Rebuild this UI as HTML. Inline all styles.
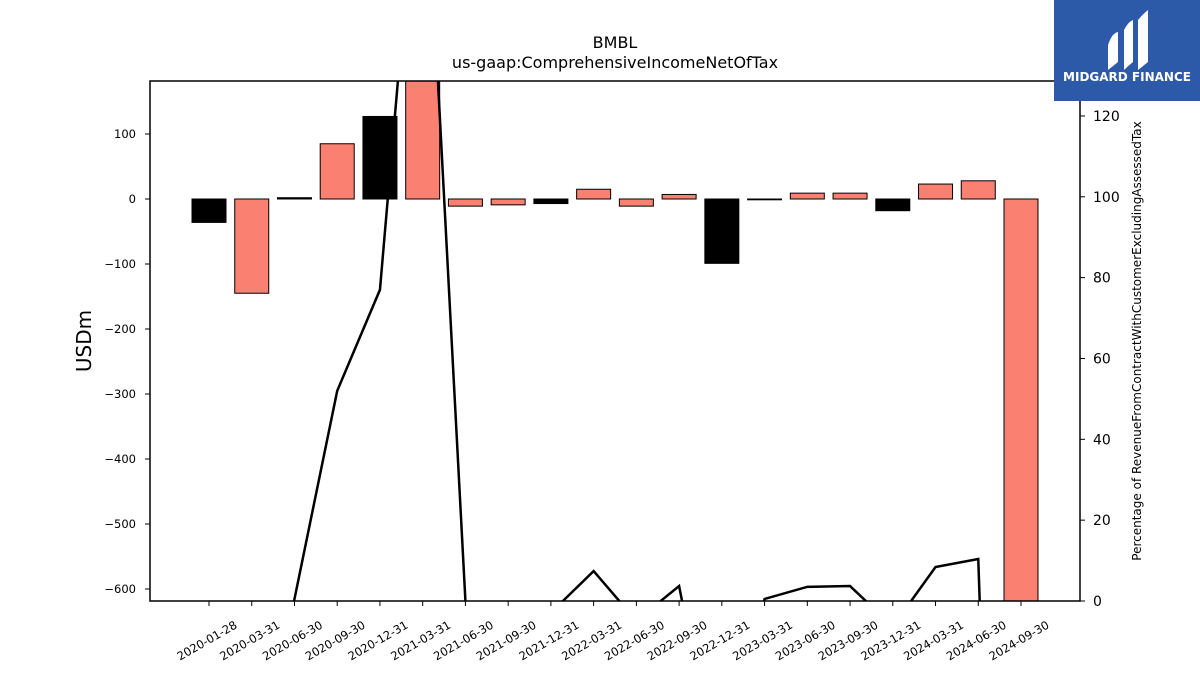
<!DOCTYPE html>
<html><head><meta charset="utf-8"><style>
html,body{margin:0;background:#fff;width:1200px;height:675px;overflow:hidden;}
svg{display:block;}
svg text{font-family:"DejaVu Sans","Liberation Sans",sans-serif;}
</style></head><body>
<svg width="1200" height="675" viewBox="0 0 1200 675" xmlns="http://www.w3.org/2000/svg">
<defs><clipPath id="plotclip"><rect x="150" y="81" width="930" height="520"/></clipPath></defs>
<rect width="1200" height="675" fill="#fff"/>
<text x="615" y="48" font-size="16" text-anchor="middle">BMBL</text>
<text x="615" y="68" font-size="16" text-anchor="middle">us-gaap:ComprehensiveIncomeNetOfTax</text>
<g id="bars" clip-path="url(#plotclip)"></g>
<g id="line" clip-path="url(#plotclip)"></g>
<rect x="150" y="81" width="930" height="520" fill="none" stroke="#000" stroke-width="1.5"/>
<g id="xticks"></g><g id="yticks"></g><g id="y2ticks"></g>
<text transform="translate(91,341) rotate(-90)" font-size="20" text-anchor="middle">USDm</text>
<text transform="translate(1141,341) rotate(-90)" font-size="12" text-anchor="middle">Percentage of RevenueFromContractWithCustomerExcludingAssessedTax</text>
<g>
<rect x="1054" y="0" width="146" height="101" fill="#2d5aa8"/>
<path d="M1108 45 Q1112 33 1118 32 L1118 62 Q1113 66 1108 70 Z" fill="#fff"/>
<path d="M1124 30 Q1128 22 1133 20 L1133 62 Q1128 66 1124 70 Z" fill="#fff"/>
<path d="M1138 20 Q1143 14 1148 10 L1148 62 Q1143 66 1138 70 Z" fill="#fff"/>
<text x="1127" y="81" font-size="12" font-weight="bold" fill="#fff" text-anchor="middle">MIDGARD FINANCE</text>
</g>
</svg>
<script>
const categories=["2020-01-28","2020-03-31","2020-06-30","2020-09-30","2020-12-31","2021-03-31","2021-06-30","2021-09-30","2021-12-31","2022-03-31","2022-06-30","2022-09-30","2022-12-31","2023-03-31","2023-06-30","2023-09-30","2023-12-31","2024-03-31","2024-06-30","2024-09-30"];
const barValues=[-36,-145,2,85,127,300,-11,-9,-7,15,-11,7,-99,-1,9,9,-18,23,28,-620];
const barColors=["#000","salmon","#000","salmon","#000","salmon","salmon","salmon","#000","salmon","salmon","salmon","#000","#000","salmon","salmon","#000","salmon","salmon","salmon"];
const pctValues=[-50,-50,0.5,52,77,200,0,-10,-2.9,7.4,-4.9,3.7,-50,0.5,3.5,3.7,-6.3,8.4,10.4,-300];
const yTicks=[100,0,-100,-200,-300,-400,-500,-600];
const y2Ticks=[0,20,40,60,80,100,120];
const NS="http://www.w3.org/2000/svg";
const x=i=>209+i*(1021-209)/(categories.length-1);
const y=v=>199-v*0.65;
const y2=v=>601-v*4.042;
function mk(tag,attrs,parent){const e=document.createElementNS(NS,tag);for(const k in attrs)e.setAttribute(k,attrs[k]);parent.appendChild(e);return e;}
const gb=document.getElementById('bars');
barValues.forEach((v,i)=>{
 const top=Math.min(y(v),y(0)),h=Math.max(Math.abs(y(v)-y(0)),0.8);
 const r=mk('rect',{x:x(i)-17,y:top,width:34,height:h,fill:barColors[i],stroke:'#000','stroke-width':1},gb);
 
 
});
const gl=document.getElementById('line');
const p=mk('polyline',{points:pctValues.map((v,i)=>x(i)+','+y2(v)).join(' '),fill:'none',stroke:'#000','stroke-width':2.5},gl);


const gx=document.getElementById('xticks');
categories.forEach((c,i)=>{
 mk('line',{x1:x(i),x2:x(i),y1:601,y2:606,stroke:'#000'},gx);
 const t=mk('text',{transform:`translate(${x(i)},${644}) rotate(-30)`,'font-size':11.5,'text-anchor':'middle'},gx);
 t.textContent=c;
 
 
});
const gy=document.getElementById('yticks');
yTicks.forEach(v=>{
 mk('line',{x1:145,x2:150,y1:y(v),y2:y(v),stroke:'#000'},gy);
 const t=mk('text',{x:136,y:y(v)+4,'font-size':11.5,'text-anchor':'end'},gy);
 t.textContent=v<0?'\u2212'+(-v):String(v);
 
 
});
const gy2=document.getElementById('y2ticks');
y2Ticks.forEach(v=>{
 mk('line',{x1:1080,x2:1085,y1:y2(v),y2:y2(v),stroke:'#000'},gy2);
 const t=mk('text',{x:1093,y:y2(v)+5,'font-size':14},gy2);
 t.textContent=String(v);
 
 
});
</script>
</body></html>
